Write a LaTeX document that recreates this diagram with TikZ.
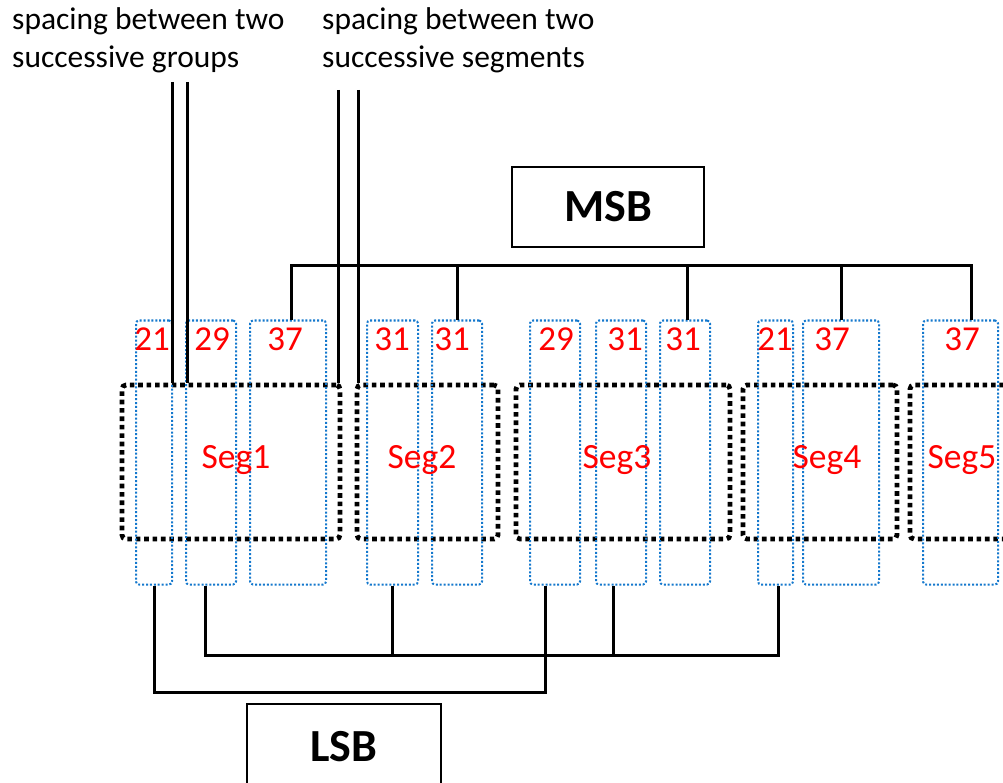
\documentclass[tikz,border=0pt]{standalone}
\usepackage{fontspec}
\setmainfont{Carlito}
\definecolor{dotblue}{RGB}{20,120,205}
\definecolor{segred}{RGB}{255,0,0}
\tikzset{
  bbox/.style={draw=dotblue, line width=2pt, dash pattern=on 2pt off 1.9pt, rounded corners=3pt, minimum width=#1, minimum height=264pt, inner sep=0pt},
  sbox/.style={draw=black, line width=4.8pt, dash pattern=on 4.6pt off 3.8pt, rounded corners=4pt, minimum width=#1, minimum height=154pt, inner sep=0pt},
  conn/.style={draw=black, line width=3pt},
  numt/.style={text=segred, font=\fontsize{35}{40}\selectfont, inner sep=0pt, anchor=base},
  segt/.style={text=segred, font=\fontsize{35.5}{40}\selectfont, inner sep=0pt, anchor=base},
  capt/.style={font=\fontsize{31.5}{38}\selectfont, inner sep=0pt, anchor=base west},
  lbox/.style={draw=black, line width=2pt, inner sep=0pt},
  bigt/.style={font=\bfseries\fontsize{46}{50}\selectfont, inner sep=0pt}
}
\begin{document}
\begin{tikzpicture}[x=1pt,y=-1pt]
\useasboundingbox (0,0) rectangle (1003,783);
\clip (0,0) rectangle (1003,783);
% captions
\node[capt] (t1a) at (12,30) {spacing between two};
\node[capt] (t1b) at (12,68) {successive groups};
\node[capt] (t2a) at (322,30) {spacing between two};
\node[capt] (t2b) at (322,68) {successive segments};
% MSB / LSB boxes
\node[lbox, minimum width=192pt, minimum height=80pt] (msb) at (608,207) {};
\node[bigt] (msbt) at (608,207) {MSB};
\node[lbox, minimum width=194pt, minimum height=112pt] (lsb) at (344,760) {};
\node[bigt] (lsbt) at (344,747) {LSB};
% segments
\node[sbox=218pt] (s1) at (231,462) {};
\node[sbox=141pt] (s2) at (427.5,462) {};
\node[sbox=214pt] (s3) at (623,462) {};
\node[sbox=154pt] (s4) at (820,462) {};
\node[sbox=140pt] (s5) at (980,462) {};
% groups
\node[bbox=36pt] (b1) at (154,452.5) {};
\node[bbox=50pt] (b2) at (211,452.5) {};
\node[bbox=76pt] (b3) at (288,452.5) {};
\node[bbox=51pt] (b4) at (392.5,452.5) {};
\node[bbox=50pt] (b5) at (457,452.5) {};
\node[bbox=50pt] (b6) at (555,452.5) {};
\node[bbox=50pt] (b7) at (621,452.5) {};
\node[bbox=50pt] (b8) at (685,452.5) {};
\node[bbox=35pt] (b9) at (775.5,452.5) {};
\node[bbox=76pt] (b10) at (841,452.5) {};
\node[bbox=75pt] (b11) at (960.5,452.5) {};
% numbers
\node[numt] (n1) at (152,350) {21};
\node[numt] (n2) at (212,350) {29};
\node[numt] (n3) at (285,350) {37};
\node[numt] (n4) at (392,350) {31};
\node[numt] (n5) at (452,350) {31};
\node[numt] (n6) at (556,350) {29};
\node[numt] (n7) at (625,350) {31};
\node[numt] (n8) at (683,350) {31};
\node[numt] (n9) at (775,350) {21};
\node[numt] (n10) at (832,350) {37};
\node[numt] (n11) at (962,350) {37};
% segment labels
\node[segt] (l1) at (236,468) {Seg1};
\node[segt] (l2) at (422,468) {Seg2};
\node[segt] (l3) at (617,468) {Seg3};
\node[segt] (l4) at (827,468) {Seg4};
\node[segt] (l5) at (962,468) {Seg5};
% spacing markers
\coordinate (g1) at (172,82);
\coordinate (g2) at (187,82);
\coordinate (g3) at (338,90);
\coordinate (g4) at (358,90);
\draw[conn] (g1) -- (g1 |- s1.north);
\draw[conn] (g2) -- (g2 |- s1.north);
\draw[conn] (g3) -- (g3 |- s1.north);
\draw[conn] (g4) -- (g4 |- s2.north);
% MSB bus
\draw[conn] ([xshift=3pt]b3.north) -- ++(0,-54) -| ([xshift=10.5pt]b11.north);
\draw[conn] (b5.north) -- ++(0,-54);
\draw[conn] ([xshift=2pt]b8.north) -- ++(0,-54);
\draw[conn] (b10.north) -- ++(0,-54);
% LSB buses
\draw[conn] ([xshift=-6pt]b2.south) -- ++(0,70) -| ([xshift=2.5pt]b9.south);
\draw[conn] (b4.south) -- ++(0,70);
\draw[conn] ([xshift=-8pt]b7.south) -- ++(0,70);
\draw[conn] (b1.south) -- ++(0,107) -| ([xshift=-10pt]b6.south);
\end{tikzpicture}
\end{document}
